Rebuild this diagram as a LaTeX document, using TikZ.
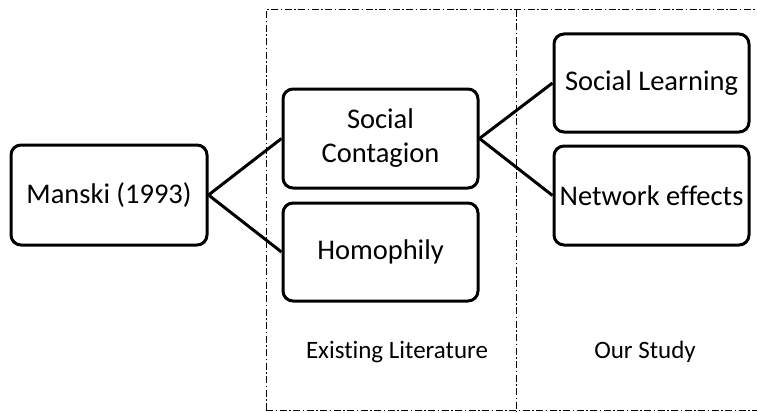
\documentclass[tikz,border=0pt]{standalone}
\usepackage{fontspec}
\setmainfont[Ligatures=NoCommon]{Carlito}
\begin{document}
\begin{tikzpicture}[x=1pt,y=-1pt,
  boxnode/.style={draw=black, line width=3pt, rounded corners=10pt, minimum width=195pt, minimum height=98pt, align=center, inner sep=2pt, font=\fontsize{28.5}{34}\selectfont},
  conn/.style={line width=3pt},
  frameline/.style={line width=1pt, dash pattern=on 7pt off 2.5pt on 1.5pt off 2.5pt},
  lbl/.style={font=\fontsize{25}{30}\selectfont}]
\useasboundingbox (0,0) rectangle (757,412);
\draw[frameline] (266,410) -- (266,10) -- (760,10);
\draw[frameline] (266,410) -- (760,410);
\draw[frameline] (516,10) -- (516,412);
\node[boxnode, minimum width=196pt, minimum height=100pt] (manski) at (109,195) {Manski (1993)};
\node[boxnode, minimum height=99pt] (contagion) at (380.5,138.5) {Social\\Contagion};
\node[boxnode] (homophily) at (380.5,252) {Homophily};
\node[boxnode] (learning) at (651.5,83) {Social Learning};
\node[boxnode, minimum height=99pt] (network) at (651.5,195.5) {Network effects};
\node[lbl] (existing) at (397,352) {Existing Literature};
\node[lbl] (study) at (645,352) {Our Study};
\draw[conn] (manski.east) -- (contagion.west);
\draw[conn] (manski.east) -- (homophily.west);
\draw[conn] (contagion.east) -- (learning.west);
\draw[conn] (contagion.east) -- (network.west);
\end{tikzpicture}
\end{document}
